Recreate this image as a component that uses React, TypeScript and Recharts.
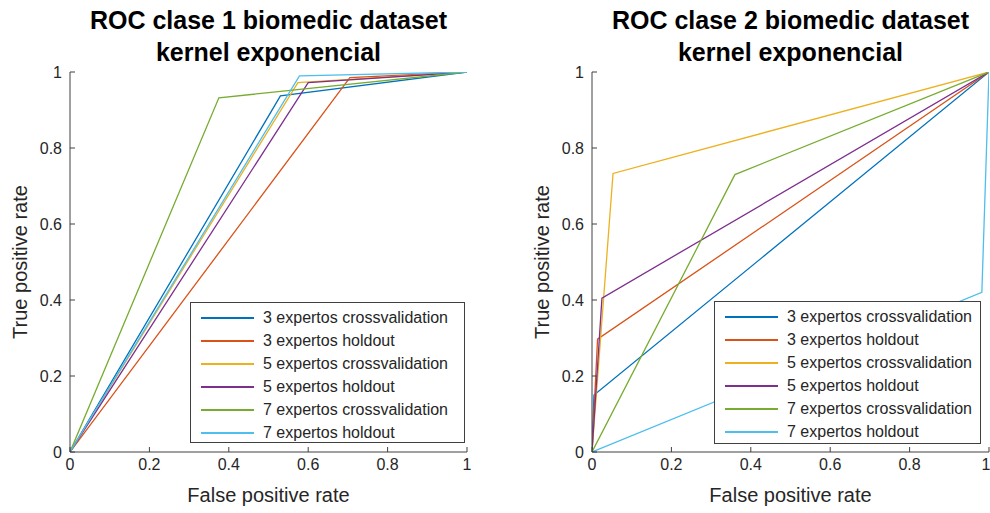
import React from 'react';
import { LineChart, Line, XAxis, YAxis, Legend } from 'recharts';

const FPR_TICKS = [0, 0.2, 0.4, 0.6, 0.8, 1];
const TPR_TICKS = [0, 0.2, 0.4, 0.6, 0.8, 1];

const SERIES_NAMES = [
  '3 expertos crossvalidation',
  '3 expertos holdout',
  '5 expertos crossvalidation',
  '5 expertos holdout',
  '7 expertos crossvalidation',
  '7 expertos holdout',
];
const SERIES_COLORS = ['#0072BD', '#D95319', '#EDB120', '#7E2F8E', '#77AC30', '#4DBEEE'];

// clase 1
const c1_3cv_fpr = [0, 0.53, 1];
const c1_3cv_tpr = [0, 0.937, 1];
const c1_3ho_fpr = [0, 0.705, 1];
const c1_3ho_tpr = [0, 0.985, 1];
const c1_5cv_fpr = [0, 0.574, 1];
const c1_5cv_tpr = [0, 0.972, 1];
const c1_5ho_fpr = [0, 0.6, 1];
const c1_5ho_tpr = [0, 0.972, 1];
const c1_7cv_fpr = [0, 0.375, 1];
const c1_7cv_tpr = [0, 0.932, 1];
const c1_7ho_fpr = [0, 0.578, 1];
const c1_7ho_tpr = [0, 0.99, 1];

// clase 2
const c2_3cv_fpr = [0, 0.005, 1];
const c2_3cv_tpr = [0, 0.15, 1];
const c2_3ho_fpr = [0, 0.014, 1];
const c2_3ho_tpr = [0, 0.297, 1];
const c2_5cv_fpr = [0, 0.053, 1];
const c2_5cv_tpr = [0, 0.733, 1];
const c2_5ho_fpr = [0, 0.025, 1];
const c2_5ho_tpr = [0, 0.405, 1];
const c2_7cv_fpr = [0, 0.36, 1];
const c2_7cv_tpr = [0, 0.73, 1];
const c2_7ho_fpr = [0, 0.982, 1];
const c2_7ho_tpr = [0, 0.42, 1];

const toPoints = (fpr: number[], tpr: number[]) => fpr.map((f, i) => ({ fpr: f, tpr: tpr[i] }));

const CLASS1 = [
  toPoints(c1_3cv_fpr, c1_3cv_tpr),
  toPoints(c1_3ho_fpr, c1_3ho_tpr),
  toPoints(c1_5cv_fpr, c1_5cv_tpr),
  toPoints(c1_5ho_fpr, c1_5ho_tpr),
  toPoints(c1_7cv_fpr, c1_7cv_tpr),
  toPoints(c1_7ho_fpr, c1_7ho_tpr),
];
const CLASS2 = [
  toPoints(c2_3cv_fpr, c2_3cv_tpr),
  toPoints(c2_3ho_fpr, c2_3ho_tpr),
  toPoints(c2_5cv_fpr, c2_5cv_tpr),
  toPoints(c2_5ho_fpr, c2_5ho_tpr),
  toPoints(c2_7cv_fpr, c2_7cv_tpr),
  toPoints(c2_7ho_fpr, c2_7ho_tpr),
];

const FONT = '"Liberation Sans", Arial, sans-serif';
const INK = '#262626';
const AXIS = '#404040';
const W = 495;
const H = 513;

function LegendBox({ payload }: any) {
  return (
    <div
      style={{
        border: `1px solid ${AXIS}`,
        background: '#fff',
        padding: '3px 0 0 0',
        boxSizing: 'border-box',
        height: '100%',
        fontFamily: FONT,
        fontSize: 16,
        color: INK,
      }}
    >
      {(payload || []).map((p: any) => {
        const idx = SERIES_NAMES.indexOf(p.value);
        return (
          <div key={p.value} style={{ display: 'flex', alignItems: 'center', height: 23 }}>
            <div style={{ width: 53, height: 2, background: SERIES_COLORS[idx], marginLeft: 10, marginRight: 9 }} />
            <span>{p.value}</span>
          </div>
        );
      })}
    </div>
  );
}

function RocPanel({
  left,
  yAxisWidth,
  rightMargin,
  title,
  series,
  legendPos,
}: {
  left: number;
  yAxisWidth: number;
  rightMargin: number;
  title: string;
  series: { fpr: number; tpr: number }[][];
  legendPos: { left: number; top: number; width: number; height: number };
}) {
  const plotLeft = yAxisWidth;
  const plotRight = W - rightMargin;
  const cx = (plotLeft + plotRight) / 2;
  return (
    <div style={{ position: 'absolute', left, top: 0, width: W, height: H }}>
      <div
        style={{
          position: 'absolute',
          left: cx - 250,
          width: 500,
          top: 4,
          textAlign: 'center',
          fontFamily: FONT,
          fontWeight: 'bold',
          fontSize: 25,
          lineHeight: '32px',
          color: '#000',
        }}
      >
        {title}
        <br />
        kernel exponencial
      </div>
      <LineChart width={W} height={H} margin={{ top: 72, right: rightMargin, bottom: 0, left: 0 }}>
        <XAxis
          xAxisId="b"
          type="number"
          dataKey="fpr"
          domain={[0, 1]}
          ticks={FPR_TICKS}
          allowDataOverflow
          height={61}
          tickSize={-5}
          tickMargin={12}
          stroke={AXIS}
          tick={{ fill: INK, fontSize: 16, fontFamily: FONT }}
          tickFormatter={(v: number) => String(v)}
          label={{
            content: (props: any) => {
              const vb = props.viewBox;
              return (
                <text
                  x={vb.x + vb.width / 2}
                  y={vb.y + 45}
                  textAnchor="middle"
                  dominantBaseline="middle"
                  fill={INK}
                  fontSize={20}
                  fontFamily={FONT}
                >
                  False positive rate
                </text>
              );
            },
          }}
        />
        <XAxis
          xAxisId="t"
          orientation="top"
          type="number"
          dataKey="fpr"
          domain={[0, 1]}
          ticks={FPR_TICKS}
          allowDataOverflow
          height={0}
          tickSize={-5}
          stroke={AXIS}
          tickFormatter={() => ''}
        />
        <YAxis
          yAxisId="l"
          type="number"
          domain={[0, 1]}
          ticks={TPR_TICKS}
          allowDataOverflow
          width={yAxisWidth}
          tickSize={-5}
          tickMargin={13}
          stroke={AXIS}
          tick={{ fill: INK, fontSize: 16, fontFamily: FONT }}
          tickFormatter={(v: number) => String(v)}
          label={{
            content: (props: any) => {
              const vb = props.viewBox;
              const x = vb.x + vb.width - 48;
              const y = vb.y + vb.height / 2;
              return (
                <text
                  x={x}
                  y={y}
                  transform={`rotate(-90 ${x} ${y})`}
                  textAnchor="middle"
                  dominantBaseline="middle"
                  fill={INK}
                  fontSize={20}
                  fontFamily={FONT}
                >
                  True positive rate
                </text>
              );
            },
          }}
        />
        <YAxis
          yAxisId="r"
          orientation="right"
          type="number"
          domain={[0, 1]}
          ticks={TPR_TICKS}
          allowDataOverflow
          width={0}
          tickSize={-5}
          stroke={AXIS}
          tickFormatter={() => ''}
        />
        {series.map((pts, i) => (
          <Line
            key={SERIES_NAMES[i]}
            xAxisId="b"
            yAxisId="l"
            data={pts}
            dataKey="tpr"
            name={SERIES_NAMES[i]}
            type="linear"
            stroke={SERIES_COLORS[i]}
            strokeWidth={1.3}
            dot={false}
            activeDot={false}
            isAnimationActive={false}
          />
        ))}
        <Legend
          layout="vertical"
          align="center"
          verticalAlign="middle"
          content={<LegendBox />}
          wrapperStyle={{ position: 'absolute', ...legendPos }}
        />
      </LineChart>
    </div>
  );
}

export default function App() {
  return (
    <div style={{ position: 'absolute', left: 0, top: 0, width: 990, height: 513, background: '#fff' }}>
      <RocPanel
        left={0}
        yAxisWidth={70}
        rightMargin={28}
        title="ROC clase 1 biomedic dataset"
        series={CLASS1}
        legendPos={{ left: 190, top: 302, width: 275, height: 141 }}
      />
      <RocPanel
        left={495}
        yAxisWidth={97}
        rightMargin={1}
        title="ROC clase 2 biomedic dataset"
        series={CLASS2}
        legendPos={{ left: 219, top: 301, width: 267, height: 143 }}
      />
    </div>
  );
}
